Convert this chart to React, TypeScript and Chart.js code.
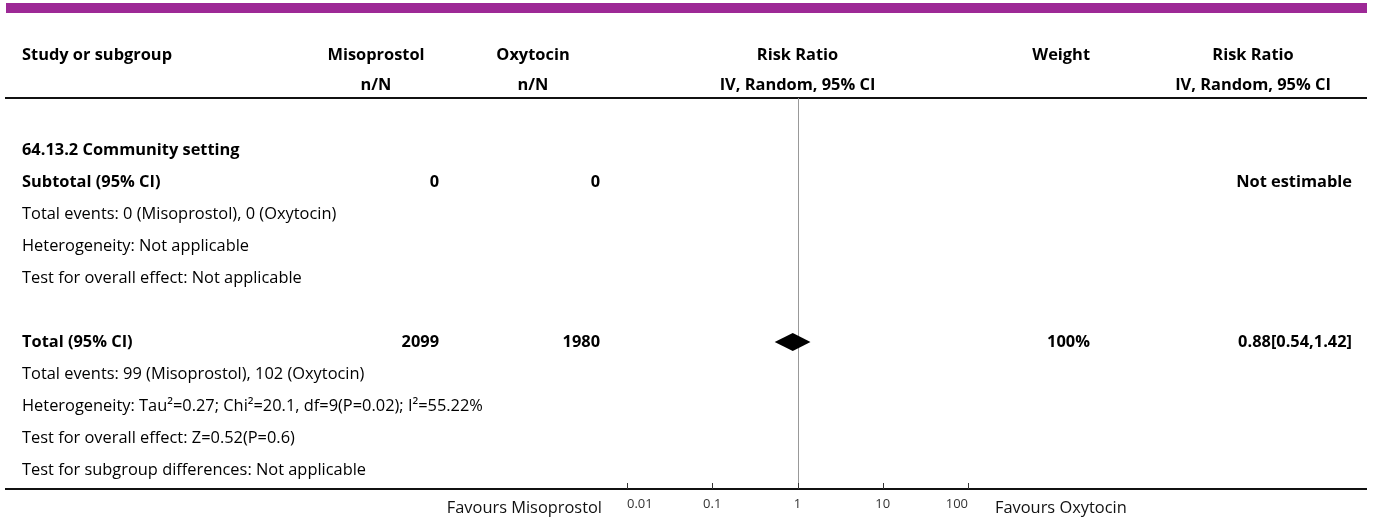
import React, { useEffect, useRef } from "react";
import { Chart, registerables } from "chart.js";

Chart.register(...registerables);

// ---- data ----
const headerTop = ["Study or subgroup", "Misoprostol", "Oxytocin", "Risk Ratio", "Weight", "Risk Ratio"];
const headerBottom = ["", "n/N", "n/N", "IV, Random, 95% CI", "", "IV, Random, 95% CI"];

const rowLabels = [
  "64.13.2 Community setting",
  "Subtotal (95% CI)",
  "Total events: 0 (Misoprostol), 0 (Oxytocin)",
  "Heterogeneity: Not applicable",
  "Test for overall effect: Not applicable",
  "",
  "Total (95% CI)",
  "Total events: 99 (Misoprostol), 102 (Oxytocin)",
  "Heterogeneity: Tau\u00B2=0.27; Chi\u00B2=20.1, df=9(P=0.02); I\u00B2=55.22%",
  "Test for overall effect: Z=0.52(P=0.6)",
  "Test for subgroup differences: Not applicable",
];
const rowBold = [true, true, false, false, false, false, true, false, false, false, false];
const misoprostolN = ["", "0", "", "", "", "", "2099", "", "", "", ""];
const oxytocinN = ["", "0", "", "", "", "", "1980", "", "", "", ""];
const weightText = ["", "", "", "", "", "", "100%", "", "", "", ""];
const effectText = ["", "Not estimable", "", "", "", "", "0.88[0.54,1.42]", "", "", "", ""];

// pooled estimate (diamond)
const diamondRow = [6];
const diamondMid = [0.88];
const diamondLow = [0.54];
const diamondHigh = [1.42];

const xTicks = [0.01, 0.1, 1, 10, 100];
const xTickLabels = ["0.01", "0.1", "1", "10", "100"];
const favoursLeft = "Favours Misoprostol";
const favoursRight = "Favours Oxytocin";

const FONT = "'Open Sans'";
const SIZE = 16.4;

export default function App() {
  const ref = useRef<HTMLCanvasElement | null>(null);

  useEffect(() => {
    document.body.style.margin = "0";
    const canvas = ref.current!;
    const W = 1375;

    const tablePlugin = {
      id: "forestTable",
      afterDraw(chart: any) {
        const ctx = chart.ctx as CanvasRenderingContext2D;
        const xs = chart.scales.x;
        const ys = chart.scales.y;
        const area = chart.chartArea;
        const colX = {
          study: 22,
          miso: 439,
          misoHead: 376,
          oxy: 600,
          oxyHead: 533,
          rr: xs.getPixelForValue(1),
          weight: 1090,
          rr2: 1253,
          rr2Right: 1352,
        };
        ctx.save();
        // purple bar
        ctx.fillStyle = "#9D2996";
        ctx.fillRect(6, 3, 1361, 10);

        // headers
        ctx.fillStyle = "#000";
        ctx.textBaseline = "middle";
        ctx.font = `bold ${SIZE}px ${FONT}`;
        const h1 = ys.getPixelForValue(-2.95);
        const h2 = ys.getPixelForValue(-2.03);
        ctx.textAlign = "left";
        ctx.fillText(headerTop[0], colX.study, h1);
        ctx.textAlign = "center";
        ctx.fillText(headerTop[1], colX.misoHead, h1);
        ctx.fillText(headerTop[2], colX.oxyHead, h1);
        ctx.fillText(headerTop[3], colX.rr, h1);
        ctx.textAlign = "right";
        ctx.fillText(headerTop[4], colX.weight, h1);
        ctx.textAlign = "center";
        ctx.fillText(headerTop[5], colX.rr2, h1);
        ctx.fillText(headerBottom[1], colX.misoHead, h2);
        ctx.fillText(headerBottom[2], colX.oxyHead, h2);
        ctx.fillText(headerBottom[3], colX.rr, h2);
        ctx.fillText(headerBottom[5], colX.rr2, h2);

        // top rule
        ctx.strokeStyle = "#111";
        ctx.lineWidth = 2;
        ctx.beginPath();
        ctx.moveTo(5, area.top);
        ctx.lineTo(1367, area.top);
        ctx.stroke();

        // line of no effect
        ctx.strokeStyle = "#999";
        ctx.lineWidth = 1;
        ctx.beginPath();
        ctx.moveTo(Math.round(colX.rr) + 0.5, area.top);
        ctx.lineTo(Math.round(colX.rr) + 0.5, area.bottom);
        ctx.stroke();

        // bottom rule
        ctx.strokeStyle = "#111";
        ctx.lineWidth = 2;
        ctx.beginPath();
        ctx.moveTo(5, area.bottom);
        ctx.lineTo(1367, area.bottom);
        ctx.stroke();

        // tick marks
        ctx.lineWidth = 1;
        ctx.strokeStyle = "#333";
        xTicks.forEach((t) => {
          const px = Math.round(xs.getPixelForValue(t)) + 0.5;
          ctx.beginPath();
          ctx.moveTo(px, area.bottom - 6);
          ctx.lineTo(px, area.bottom);
          ctx.stroke();
        });

        // diamond
        ctx.fillStyle = "#000";
        diamondRow.forEach((r, i) => {
          const yc = ys.getPixelForValue(r);
          const half = 9;
          ctx.beginPath();
          ctx.moveTo(xs.getPixelForValue(diamondLow[i]), yc);
          ctx.lineTo(xs.getPixelForValue(diamondMid[i]), yc - half);
          ctx.lineTo(xs.getPixelForValue(diamondHigh[i]), yc);
          ctx.lineTo(xs.getPixelForValue(diamondMid[i]), yc + half);
          ctx.closePath();
          ctx.fill();
        });

        // rows
        rowLabels.forEach((lab, i) => {
          const y = ys.getPixelForValue(i);
          const b = rowBold[i];
          ctx.font = `${b ? "bold " : ""}${SIZE}px ${FONT}`;
          ctx.fillStyle = "#000";
          ctx.textAlign = "left";
          if (lab) ctx.fillText(lab, colX.study, y);
          ctx.font = `bold ${SIZE}px ${FONT}`;
          ctx.textAlign = "right";
          if (misoprostolN[i]) ctx.fillText(misoprostolN[i], colX.miso, y);
          if (oxytocinN[i]) ctx.fillText(oxytocinN[i], colX.oxy, y);
          if (weightText[i]) ctx.fillText(weightText[i], colX.weight, y);
          if (effectText[i]) ctx.fillText(effectText[i], colX.rr2Right, y);
        });

        // favours labels
        ctx.font = `${SIZE}px ${FONT}`;
        ctx.fillStyle = "#111";
        const fy = area.bottom + 19;
        ctx.textAlign = "right";
        ctx.fillText(favoursLeft, 602, fy);
        ctx.textAlign = "left";
        ctx.fillText(favoursRight, 995, fy);
        ctx.restore();
      },
    };

    const chart = new Chart(canvas, {
      type: "scatter",
      data: {
        datasets: [
          {
            data: diamondRow.map((r, i) => ({ x: diamondMid[i], y: r })),
            pointRadius: 0,
            showLine: false,
          },
        ],
      },
      options: {
        responsive: false,
        animation: false,
        events: [],
        layout: { padding: { left: 627, right: W - 968, top: 98, bottom: 0 } },
        plugins: { legend: { display: false }, tooltip: { enabled: false } },
        scales: {
          x: {
            type: "logarithmic",
            min: 0.01,
            max: 100,
            grid: { display: false, drawTicks: false },
            border: { display: false },
            afterBuildTicks: (scale: any) => {
              scale.ticks = xTicks.map((v) => ({ value: v }));
            },
            afterFit: (scale: any) => {
              scale.height = 31;
            },
            ticks: {
              autoSkip: false,
              maxRotation: 0,
              align: "inner",
              padding: 7,
              color: "#333",
              font: { family: "Open Sans", size: 13 },
              callback: (v: any) => {
                const idx = xTicks.indexOf(Number(v));
                return idx >= 0 ? xTickLabels[idx] : "";
              },
            },
          },
          y: {
            type: "linear",
            display: false,
            reverse: true,
            min: -1.625,
            max: 10.594,
          },
        },
      },
      plugins: [tablePlugin],
    });
    return () => chart.destroy();
  }, []);

  return <canvas ref={ref} width={1375} height={520} style={{ display: "block" }} />;
}
